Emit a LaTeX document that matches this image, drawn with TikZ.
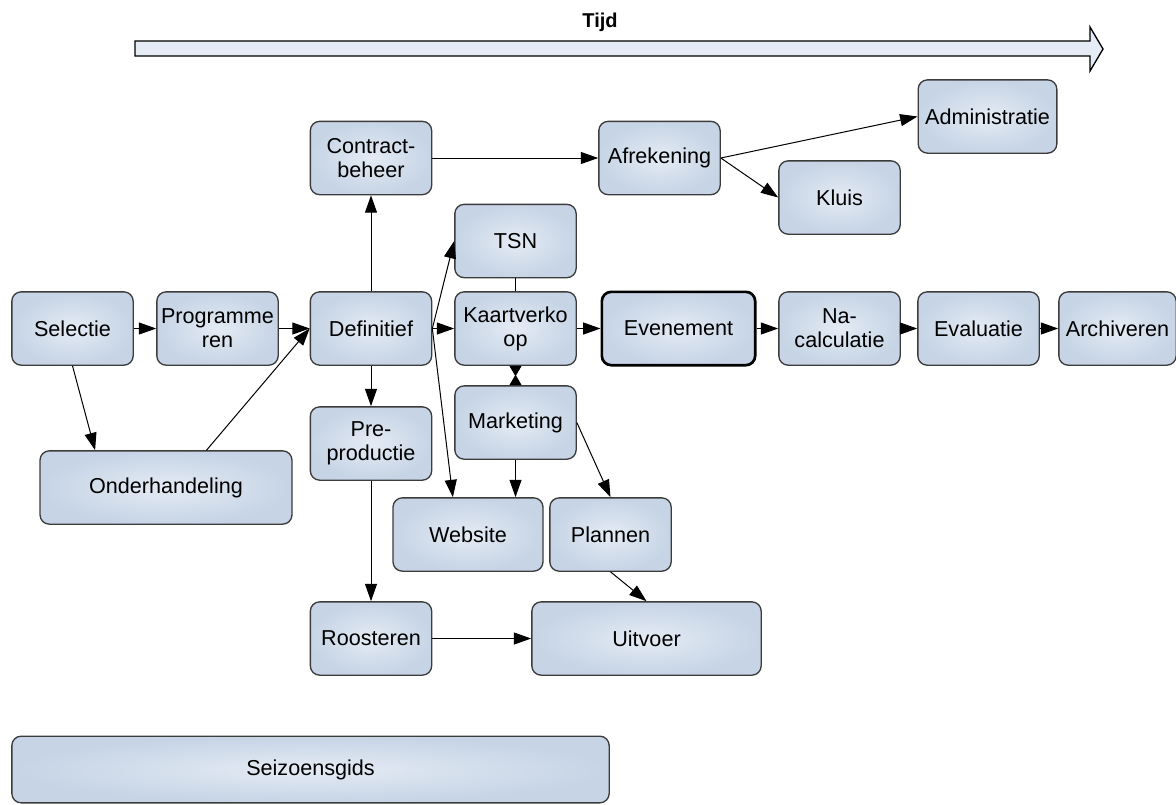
\documentclass[tikz,border=0pt]{standalone}
\usepackage{fontspec}
\setmainfont{Liberation Sans}
\usetikzlibrary{arrows.meta,calc}
\definecolor{boxedge}{HTML}{3C3C3C}
\definecolor{boxin}{HTML}{E4EBF4}
\definecolor{boxout}{HTML}{C6D4E5}
\definecolor{tijdfill}{HTML}{E5ECF6}

\begin{document}
\begin{tikzpicture}[x=0.75pt,y=-0.75pt,
    stap/.style={draw=boxedge, line width=1pt, rounded corners=7pt, shading=radial, inner color=boxin, outer color=boxout, minimum width=91pt, minimum height=55pt, inner sep=2pt, align=center, font=\fontsize{16.2}{18}\selectfont},
    pijl/.style={-{Triangle[length=13pt,width=9pt]}, line width=0.75pt},
    dubbel/.style={{Triangle[reversed,length=7.9pt,width=9pt]}-{Triangle[reversed,length=7.9pt,width=9pt]}, line width=0.75pt}]
  \useasboundingbox (0,0) rectangle (1176,804);
  % tijdas
  \node[font=\fontsize{15}{18}\selectfont\bfseries] (tijd) at (600,22) {Tijd};
  \draw[fill=tijdfill, line width=1pt] (135,41) -- (1090,41) -- (1090,27) -- (1103,49) -- (1090,71) -- (1090,56) -- (135,56) -- cycle;
  % stappen
  \node[stap] (contract) at (371,158) {Contract-\\beheer};
  \node[stap] (afr) at (659.5,158) {Afrekening};
  \node[stap, minimum width=104pt] (admin) at (987.5,116.5) {Administratie};
  \node[stap] (kluis) at (839.5,197.5) {Kluis};
  \node[stap] (tsn) at (515.5,241) {TSN};
  \node[stap] (sel) at (72.5,328.5) {Selectie};
  \node[stap] (prog) at (217.5,328.5) {Programme\\ren};
  \node[stap] (def) at (371,328.5) {Definitief};
  \node[stap] (kaart) at (515.5,328.5) {Kaartverko\\op};
  \node[stap, minimum width=115pt, draw=black, line width=2pt] (even) at (678.5,328.5) {Evenement};
  \node[stap] (nacalc) at (839.5,328.5) {Na-\\calculatie};
  \node[stap] (eval) at (978.5,328.5) {Evaluatie};
  \node[stap, minimum width=88pt] (arch) at (1117.5,328.5) {Archiveren};
  \node[stap] (mkt) at (515.5,422.5) {Marketing};
  \node[stap] (pre) at (371,443.5) {Pre-\\productie};
  \node[stap, minimum width=189pt] (onder) at (166,487.5) {Onderhandeling};
  \node[stap, minimum width=112.5pt] (web) at (468,534.5) {Website};
  \node[stap] (plan) at (610.5,534.5) {Plannen};
  \node[stap] (roost) at (371,638.5) {Roosteren};
  \node[stap, minimum width=172pt] (uit) at (646.5,638.5) {Uitvoer};
  \node[stap, minimum width=448pt, minimum height=50pt] (seiz) at (310.5,769.5) {Seizoensgids};
  % verbindingen
  \draw[pijl] (sel) -- (prog);
  \draw[pijl] (prog) -- (def);
  \draw[pijl] (sel.south) -- ($(onder.north west)!0.22!(onder.north east)$);
  \draw[pijl] ($(onder.north west)!0.66!(onder.north east)$) -- (def.west);
  \draw[pijl] (def) -- (contract);
  \draw[pijl] (contract) -- (afr);
  \draw[pijl] (afr.east) -- (admin.west);
  \draw[pijl] (afr.east) -- (kluis.west);
  \draw[pijl] (def.east) -- (tsn.west);
  \draw[pijl] (def) -- (kaart);
  \draw[pijl] (def.east) -- ($(web.north west)!0.4!(web.north east)$);
  \draw[line width=0.75pt] (tsn) -- (kaart);
  \draw[dubbel] (kaart) -- (mkt);
  \draw[pijl] (kaart) -- (even);
  \draw[pijl] (even) -- (nacalc);
  \draw[pijl] (nacalc) -- (eval);
  \draw[pijl] (eval) -- (arch);
  \draw[pijl] (def) -- (pre);
  \draw[pijl] (pre) -- (roost);
  \draw[pijl] (roost) -- (uit);
  \draw[pijl] (mkt.south) -- (mkt.south |- web.north);
  \draw[pijl] (mkt.east) -- (plan.north);
  \draw[pijl] (plan.south) -- (uit.north);
\end{tikzpicture}
\end{document}
